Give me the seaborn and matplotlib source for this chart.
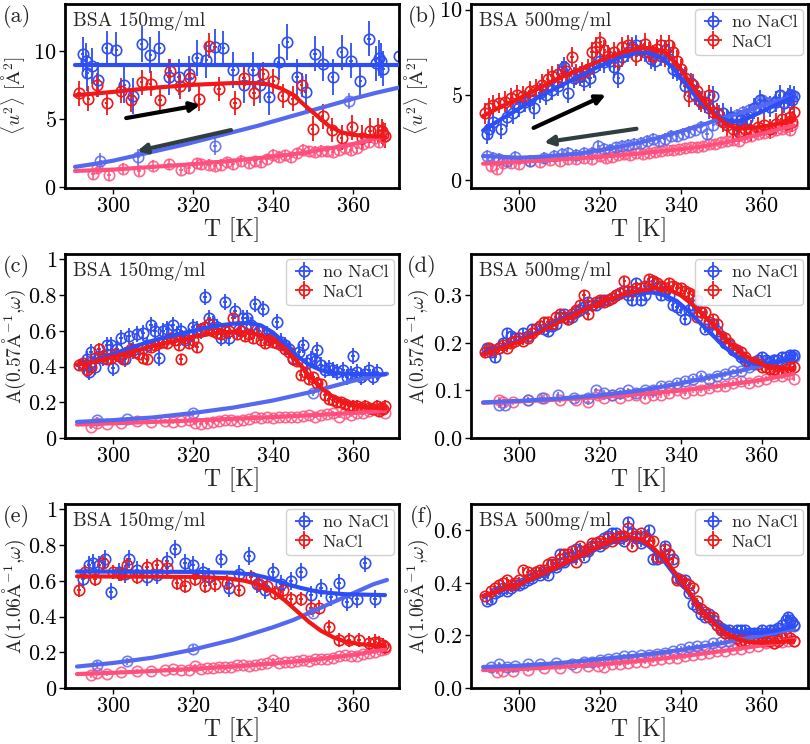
import matplotlib
matplotlib.use("Agg")
import matplotlib.pyplot as plt
from matplotlib.ticker import FuncFormatter
import seaborn as sns

# ---- colours ----
BLUE = "#2e4ef5"
RED = "#f01818"
BLUE_COOL = "#5568f0"
PINK = "#ff4f7d"

# ---- (a) BSA 150 mg/ml, <u^2> ----
a_heat_blue = [(292.4, 9.75), (293.2, 9.3), (293.6, 8.4), (294.7, 8.9), (296.3, 7.9), (298.4, 10.2), (300.8, 10.1),
               (302.8, 7.5), (305.0, 6.7), (307.2, 10.5), (309.3, 9.7), (311.6, 10.2), (314.0, 8.1), (316.5, 8.1),
               (319.0, 8.3), (321.0, 9.5), (323.3, 9.35), (325.5, 10.3), (327.6, 10.2), (330.0, 8.6), (332.8, 7.5),
               (335.0, 8.6), (336.8, 7.5), (339.0, 6.6), (341.4, 9.2), (343.6, 10.65), (346.0, 8.1), (348.2, 7.0),
               (350.5, 9.8), (352.6, 9.07), (354.9, 8.1), (357.2, 9.9), (359.5, 9.3), (361.8, 7.8), (364.0, 10.9),
               (365.8, 9.1), (366.4, 9.5), (367.0, 9.3), (367.6, 8.7), (371.6, 9.6)]
a_heat_red = [(291.5, 6.9), (293.8, 6.5), (295.9, 7.5), (298.4, 6.2), (302.0, 7.1), (304.5, 6.4), (307.2, 7.7),
              (309.4, 7.6), (311.75, 6.4), (314.25, 8.5), (316.75, 7.4), (319.25, 8.0), (321.6, 6.5), (324.0, 10.4),
              (326.5, 7.2), (330.5, 6.2), (332.75, 8.0), (335.25, 6.9), (337.6, 8.3), (340.1, 7.8), (342.4, 6.7),
              (344.9, 6.5), (347.2, 7.5), (349.9, 4.3), (352.4, 5.2), (354.7, 4.2), (357.2, 3.65), (359.7, 4.4),
              (362.2, 3.65), (364.25, 4.15), (366.3, 4.2), (367.2, 4.1), (367.6, 3.9), (368.0, 3.8)]
a_cool_blue = [(296.8, 1.95), (306.3, 2.2), (325.5, 3.0), (359.1, 6.35)]
a_cool_pink = [(295, 0.95), (296, 1.4), (299, 0.9), (302.5, 1.35), (306.5, 1.2), (310, 1.6), (314, 1.7), (317, 1.3),
               (319, 1.4), (321, 1.75), (322, 1.7), (324, 1.65), (325.5, 1.6), (327, 1.65), (328.5, 1.85), (330, 1.7),
               (332, 1.95), (334, 1.8), (335.5, 1.9), (337, 1.85), (338.5, 2.05), (340, 2.4), (341.5, 2.25),
               (343, 2.35), (344.5, 2.2), (346, 2.5), (347.5, 2.75), (349, 2.65), (350.5, 2.6), (352, 2.7),
               (353.5, 2.65), (355, 2.6), (356.5, 2.75), (358, 2.9), (359.5, 2.75), (361, 2.9), (362.5, 3.2),
               (364, 3.35), (365.5, 3.6), (366.5, 3.3), (367.5, 3.7)]
a_fit_heat_blue = [(290.5, 9.0), (372, 9.0)]
a_fit_heat_red = [(290.5, 6.75), (300, 7.0), (310, 7.3), (320, 7.52), (330, 7.65), (336, 7.65), (339, 7.55),
                  (342, 7.25), (345, 6.8), (348, 6.0), (351, 5.25), (354, 4.5), (357, 4.05), (360, 3.85),
                  (364, 3.75), (368, 3.72)]
a_fit_cool_blue = [(290.5, 1.5), (295, 1.7), (300, 1.95), (306, 2.35), (312, 2.75), (318, 3.15), (324, 3.6),
                   (330, 4.05), (336, 4.5), (342, 5.0), (348, 5.5), (354, 6.0), (360, 6.5), (366, 6.95), (372, 7.35)]
a_fit_cool_pink = [(290.5, 1.2), (300, 1.3), (310, 1.5), (320, 1.7), (330, 1.95), (340, 2.25), (347, 2.5),
                   (355, 2.9), (362, 3.3), (368, 3.75)]

# ---- (b) BSA 500 mg/ml, <u^2> ----
b_heat_blue = [(292.0, 2.7), (292.5, 3.0), (293.5, 3.4), (295.5, 3.0), (297, 3.7), (298.5, 3.9), (300, 4.3),
               (301.5, 4.6), (302.5, 4.7), (303.5, 4.2), (305, 5.1), (306.5, 5.0), (308, 5.3), (309.5, 5.5),
               (310.5, 6.4), (311, 6.6), (312, 5.1), (313.5, 6.0), (315, 6.1), (316, 5.8), (317.5, 6.0),
               (318.5, 6.6), (320, 7.0), (321, 6.9), (322.5, 7.0), (323.5, 6.6), (324.5, 6.0), (325.5, 7.2),
               (327, 7.5), (328, 7.8), (329, 7.9), (330, 7.6), (331, 7.5), (332.5, 7.1), (333.5, 7.0), (335, 7.3),
               (336, 7.6), (337, 7.1), (338, 6.5), (339, 6.4), (340, 6.2), (341, 5.5), (342.5, 5.7), (343.5, 5.0),
               (344.5, 4.7), (346, 4.6), (347, 4.2), (348, 4.9), (349.5, 3.8), (350.5, 3.9), (351.5, 3.5),
               (352.5, 3.7), (354, 3.2), (355, 3.5), (356.5, 3.6), (358, 4.2), (359.5, 4.7), (360.5, 4.4),
               (362, 4.3), (363.5, 4.6), (364.5, 5.0), (365.5, 4.5), (366.5, 4.8), (367, 5.0), (367.5, 4.7),
               (368, 4.9)]
b_heat_red = [(291.5, 3.9), (292.5, 4.2), (293.5, 4.4), (295, 4.5), (296.5, 4.6), (298, 4.8), (299.5, 5.0),
              (301, 4.9), (302.5, 5.2), (304, 5.3), (305.5, 5.6), (307, 5.9), (308, 6.1), (309.5, 6.2), (310.5, 6.0),
              (311.5, 6.4), (313, 7.2), (314, 6.2), (315.5, 6.3), (317, 6.5), (318, 7.5), (319, 7.8), (320, 8.1),
              (321, 7.6), (322, 7.3), (323.5, 7.5), (324.5, 7.0), (325.5, 7.8), (327, 7.9), (328, 7.7), (329, 7.3),
              (330, 7.6), (331, 8.0), (332, 7.5), (333, 7.3), (334, 7.7), (335, 7.9), (336, 7.2), (337, 7.9),
              (338, 7.5), (339, 7.0), (340, 6.5), (341, 6.0), (342, 4.9), (343, 5.6), (344, 5.2), (345, 4.6),
              (346, 4.5), (347, 5.0), (348, 4.0), (349, 3.9), (350.5, 3.4), (351.5, 3.2), (353, 3.0), (354.5, 2.8),
              (356, 3.0), (357.5, 2.9), (359, 3.1), (360.5, 3.2), (362, 3.0), (363.5, 3.3), (365, 3.6), (366, 3.3),
              (367, 3.7), (367.5, 3.4), (368, 4.0)]
b_cool_blue = [(292, 1.4), (293.5, 1.3), (295, 1.2), (297, 1.1), (299, 1.35), (302.5, 1.1), (306, 1.3), (308.5, 1.4),
               (310.5, 1.5), (312, 1.6), (314, 1.45), (316, 1.55), (318, 1.6), (319.5, 2.0), (321, 1.8),
               (322.5, 1.75), (324, 1.9), (325.5, 2.0), (327, 2.05), (328.5, 2.1), (330, 2.15), (331.5, 2.3),
               (333, 2.4), (334.5, 2.3), (336, 2.4), (337.5, 2.55), (339, 2.6), (340.5, 2.7), (342, 2.8),
               (343.5, 2.9), (345, 3.1), (346.5, 2.7), (348, 3.2), (349.5, 3.5), (351, 3.4), (352.5, 3.7), (354, 3.8),
               (355.5, 4.0), (357, 4.1), (358.5, 4.3), (360, 4.7), (361.5, 4.5), (363, 4.6), (364.5, 4.9),
               (365.5, 4.6), (366.5, 4.8), (367.5, 5.0)]
b_cool_pink = [(293, 0.8), (294.5, 0.65), (296, 1.0), (298, 1.0), (300, 0.95), (302.5, 1.1), (305, 1.05),
               (307.5, 1.15), (310, 1.1), (312, 1.2), (314, 1.25), (316, 1.3), (318, 1.25), (320, 1.4), (321.5, 1.3),
               (323, 1.35), (324.5, 1.45), (326, 1.5), (327.5, 1.45), (329, 1.55), (330.5, 1.5), (332, 1.6),
               (333.5, 1.65), (335, 1.7), (336.5, 1.75), (338, 1.75), (339.5, 1.8), (341, 1.85), (342.5, 1.9),
               (344, 1.95), (345.5, 2.0), (347, 2.1), (348.5, 2.1), (350, 2.2), (351.5, 2.3), (353, 2.35),
               (354.5, 2.3), (356, 2.5), (357.5, 2.6), (359, 2.7), (360.5, 2.75), (362, 2.8), (363.5, 2.9),
               (365, 3.0), (366, 3.1), (367, 2.9), (367.5, 3.2)]
b_fit_heat_blue = [(291, 2.9), (295, 3.5), (300, 4.2), (305, 4.9), (310, 5.5), (315, 6.1), (320, 6.7), (325, 7.2),
                   (329, 7.45), (332, 7.45), (335, 7.2), (338, 6.6), (341, 5.7), (344, 4.8), (347, 4.1), (350, 3.6),
                   (353, 3.4), (356, 3.55), (360, 4.0), (364, 4.45), (368, 4.9)]
b_fit_heat_red = [(291, 3.75), (295, 4.25), (300, 4.8), (305, 5.4), (310, 6.0), (315, 6.5), (320, 7.0), (325, 7.45),
                  (329, 7.7), (333, 7.75), (336, 7.5), (339, 6.8), (342, 5.8), (345, 4.8), (348, 3.9), (351, 3.3),
                  (354, 3.0), (358, 3.05), (362, 3.2), (368, 3.5)]
b_fit_cool_blue = [(291, 1.4), (300, 1.3), (305, 1.35), (310, 1.45), (315, 1.55), (320, 1.75), (325, 1.95),
                   (330, 2.2), (335, 2.5), (340, 2.85), (345, 3.2), (350, 3.6), (355, 3.95), (360, 4.35), (368, 4.9)]
b_fit_cool_pink = [(291, 0.95), (300, 1.05), (310, 1.2), (320, 1.35), (330, 1.55), (340, 1.8), (345, 1.95),
                   (350, 2.15), (355, 2.4), (360, 2.7), (368, 3.2)]

# ---- (c) BSA 150 mg/ml, A(0.57) ----
c_heat_blue = [(292.5, 0.41), (293.5, 0.44), (294, 0.37), (294.5, 0.48), (295.5, 0.4), (296.5, 0.46), (297.5, 0.45),
               (298.5, 0.52), (299.5, 0.52), (300, 0.39), (301, 0.5), (302, 0.56), (303, 0.44), (304, 0.57),
               (305, 0.49), (306, 0.58), (307.5, 0.59), (308.5, 0.52), (309.5, 0.63), (310.5, 0.6), (311.5, 0.45),
               (312.5, 0.6), (313.5, 0.61), (315, 0.63), (316, 0.58), (317, 0.6), (318, 0.55), (319, 0.57),
               (320, 0.62), (321, 0.61), (322, 0.6), (323, 0.79), (324, 0.67), (325, 0.64), (326, 0.62), (327, 0.56),
               (328, 0.76), (329, 0.56), (330.5, 0.71), (331.5, 0.61), (332.5, 0.67), (333.5, 0.67), (334.5, 0.63),
               (335.5, 0.75), (336.5, 0.6), (337.5, 0.72), (338.5, 0.58), (339.5, 0.56), (341, 0.65), (342, 0.54),
               (343, 0.52), (344, 0.5), (345, 0.45), (346.5, 0.48), (347.5, 0.52), (348.5, 0.42), (349.5, 0.44),
               (350.5, 0.43), (351, 0.49), (352, 0.41), (353, 0.38), (354, 0.39), (355, 0.38), (356, 0.37),
               (357.5, 0.38), (358.5, 0.34), (359.5, 0.36), (360, 0.46), (361, 0.37), (362, 0.34), (363, 0.36),
               (364, 0.38), (365, 0.34), (366, 0.37)]
c_heat_red = [(291.5, 0.41), (292.5, 0.42), (293.5, 0.38), (294.5, 0.4), (295.5, 0.45), (296.5, 0.5), (297.5, 0.46),
              (298.5, 0.44), (299.5, 0.45), (300.5, 0.47), (301.5, 0.46), (302.5, 0.44), (303.5, 0.48), (304.5, 0.5),
              (305.5, 0.48), (306.5, 0.47), (307.5, 0.45), (308.5, 0.44), (309.5, 0.51), (310.5, 0.52),
              (311.5, 0.53), (312.5, 0.54), (313.5, 0.53), (314.5, 0.56), (315.5, 0.55), (316.5, 0.52), (317, 0.44),
              (318, 0.56), (319, 0.53), (320, 0.55), (321, 0.51), (322, 0.61), (323, 0.62), (324, 0.64), (325, 0.6),
              (326, 0.59), (327, 0.58), (328, 0.6), (329, 0.6), (330, 0.67), (331, 0.58), (332, 0.6), (333, 0.57),
              (334, 0.58), (335, 0.56), (336, 0.61), (337, 0.55), (338, 0.53), (339, 0.55), (340, 0.54), (341, 0.53),
              (342, 0.52), (343, 0.5), (344, 0.48), (345, 0.44), (346, 0.43), (347, 0.35), (348, 0.37), (349, 0.33),
              (350, 0.34), (351, 0.31), (352, 0.3), (353, 0.24), (354, 0.22), (355, 0.21), (356, 0.2), (357, 0.2),
              (358, 0.19), (359, 0.18), (360, 0.18), (361, 0.18), (362, 0.17), (363, 0.18), (364, 0.17), (365, 0.16),
              (366, 0.18), (366.5, 0.15), (367, 0.17), (367.5, 0.16), (368, 0.18)]
c_cool_blue = [(296, 0.1), (303.5, 0.105), (320, 0.14), (350, 0.25)]
c_cool_pink = [(294.5, 0.06), (296, 0.085), (298.5, 0.08), (302, 0.085), (306, 0.095), (309.5, 0.09), (313, 0.095),
               (315, 0.09), (317, 0.095), (319, 0.1), (320.5, 0.085), (322, 0.08), (323.5, 0.085), (325, 0.09),
               (326.5, 0.095), (328, 0.1), (329.5, 0.1), (331, 0.095), (332.5, 0.1), (334, 0.105), (335.5, 0.12),
               (337, 0.11), (338.5, 0.115), (340, 0.11), (341.5, 0.115), (343, 0.12), (344.5, 0.115), (346, 0.12),
               (347.5, 0.125), (349, 0.13), (350.5, 0.12), (352, 0.13), (353.5, 0.135), (355, 0.14), (356.5, 0.12),
               (358, 0.14), (359.5, 0.13), (361, 0.14), (362.5, 0.14), (364, 0.15), (365.5, 0.16), (367, 0.17),
               (368, 0.14)]
c_fit_heat_blue = [(291, 0.41), (295, 0.43), (300, 0.47), (305, 0.51), (310, 0.545), (315, 0.575), (320, 0.6),
                   (325, 0.625), (330, 0.64), (334, 0.645), (337, 0.63), (340, 0.59), (343, 0.53), (346, 0.46),
                   (349, 0.41), (352, 0.38), (355, 0.365), (360, 0.358), (368, 0.356)]
c_fit_heat_red = [(291, 0.41), (295, 0.425), (300, 0.455), (305, 0.485), (310, 0.515), (315, 0.54), (320, 0.565),
                  (325, 0.585), (330, 0.595), (334, 0.59), (337, 0.575), (340, 0.55), (343, 0.5), (346, 0.43),
                  (349, 0.35), (352, 0.28), (355, 0.23), (358, 0.2), (361, 0.18), (365, 0.17), (368, 0.165)]
c_fit_cool_blue = [(291, 0.09), (300, 0.1), (310, 0.115), (320, 0.14), (330, 0.17), (340, 0.21), (345, 0.235),
                   (350, 0.26), (355, 0.29), (360, 0.32), (365, 0.345), (368.5, 0.36)]
c_fit_cool_pink = [(291, 0.075), (300, 0.082), (310, 0.09), (320, 0.098), (330, 0.107), (340, 0.117), (350, 0.128),
                   (360, 0.14), (368, 0.152)]

# ---- (d) BSA 500 mg/ml, A(0.57) ----
d_heat_blue = [(292, 0.19), (293, 0.18), (294, 0.17), (295, 0.19), (296, 0.2), (297, 0.22), (298, 0.215),
               (299, 0.21), (300, 0.21), (301, 0.22), (302, 0.215), (303, 0.23), (304, 0.23), (305, 0.235),
               (306, 0.23), (307, 0.225), (308, 0.235), (309, 0.24), (310, 0.255), (311, 0.26), (312, 0.25),
               (313, 0.255), (314, 0.265), (315, 0.27), (316, 0.275), (317, 0.285), (318, 0.28), (319, 0.28),
               (320, 0.285), (321, 0.29), (322, 0.29), (323, 0.295), (324, 0.3), (325, 0.305), (326, 0.31),
               (327, 0.3), (328, 0.29), (329, 0.325), (330, 0.29), (331, 0.3), (332, 0.32), (333, 0.33),
               (334, 0.315), (335, 0.3), (336, 0.31), (337, 0.3), (338, 0.28), (339, 0.275), (340, 0.27),
               (341, 0.25), (342, 0.27), (343, 0.28), (344, 0.29), (345, 0.265), (346, 0.23), (347, 0.24),
               (348, 0.24), (349, 0.225), (350, 0.21), (351, 0.2), (352, 0.195), (353, 0.185), (354, 0.18),
               (355, 0.17), (356, 0.165), (357, 0.16), (358, 0.155), (359, 0.165), (360, 0.17), (361, 0.165),
               (362, 0.16), (363, 0.165), (364, 0.165), (365, 0.17), (366, 0.17), (367, 0.175), (367.5, 0.17),
               (368, 0.175)]
d_heat_red = [(291.5, 0.18), (292.5, 0.19), (293.5, 0.185), (295, 0.19), (296, 0.195), (297, 0.19), (298, 0.2),
              (299, 0.205), (300, 0.21), (301, 0.205), (302, 0.21), (303, 0.22), (304, 0.23), (305, 0.235),
              (306, 0.245), (307, 0.245), (308, 0.24), (309, 0.255), (310, 0.26), (311, 0.255), (312, 0.25),
              (313, 0.26), (314, 0.27), (315, 0.28), (316, 0.3), (317, 0.26), (318, 0.28), (319, 0.285), (320, 0.29),
              (321, 0.285), (322, 0.29), (323, 0.295), (324, 0.3), (325, 0.305), (326, 0.33), (327, 0.31),
              (328, 0.31), (329, 0.315), (330, 0.315), (331, 0.32), (332, 0.335), (333, 0.33), (334, 0.325),
              (335, 0.32), (336, 0.315), (337, 0.325), (338, 0.32), (339, 0.315), (340, 0.315), (341, 0.31),
              (342, 0.305), (343, 0.3), (344, 0.255), (345, 0.265), (346, 0.265), (347, 0.245), (348, 0.25),
              (349, 0.24), (350, 0.215), (351, 0.21), (352, 0.2), (353, 0.19), (354, 0.185), (355, 0.18),
              (356, 0.17), (357, 0.16), (358, 0.16), (359, 0.155), (360, 0.15), (361, 0.15), (362, 0.145),
              (363, 0.145), (364, 0.14), (365, 0.14), (366, 0.145), (367, 0.15), (368, 0.15)]
d_cool_blue = [(295, 0.07), (296.5, 0.07), (302, 0.08), (305.5, 0.085), (309.5, 0.09), (313.5, 0.085), (317, 0.085),
               (319, 0.1), (321, 0.095), (323, 0.09), (325, 0.095), (327, 0.1), (329, 0.095), (331, 0.1), (333, 0.1),
               (335, 0.11), (337, 0.11), (339, 0.115), (341, 0.12), (343, 0.125), (345, 0.13), (347, 0.125),
               (349, 0.13), (351, 0.135), (353, 0.14), (355, 0.14), (357, 0.15), (359, 0.16), (361, 0.16),
               (363, 0.165), (365, 0.16), (366.5, 0.165), (368, 0.17)]
d_cool_pink = [(295, 0.08), (296, 0.075), (298.5, 0.075), (302, 0.08), (306, 0.085), (310, 0.08), (314, 0.08),
               (317, 0.075), (319.5, 0.09), (321, 0.085), (323, 0.09), (325, 0.085), (327, 0.09), (329, 0.09),
               (331, 0.085), (333, 0.09), (335, 0.09), (337, 0.095), (339, 0.1), (341, 0.095), (343, 0.1),
               (345, 0.1), (347, 0.105), (349, 0.11), (351, 0.11), (353, 0.115), (355, 0.12), (357, 0.115),
               (359, 0.12), (361, 0.125), (363, 0.13), (365, 0.13), (366.5, 0.135), (368, 0.125)]
d_fit_heat_blue = [(291, 0.178), (295, 0.19), (300, 0.205), (305, 0.225), (310, 0.248), (315, 0.268), (320, 0.285),
                   (325, 0.298), (330, 0.305), (333, 0.306), (336, 0.3), (339, 0.288), (342, 0.266), (345, 0.24),
                   (348, 0.215), (351, 0.19), (354, 0.17), (357, 0.157), (360, 0.155), (364, 0.16), (368, 0.168)]
d_fit_heat_red = [(291, 0.176), (295, 0.188), (300, 0.203), (305, 0.222), (310, 0.245), (315, 0.266), (320, 0.285),
                  (325, 0.3), (330, 0.31), (334, 0.315), (337, 0.312), (340, 0.3), (343, 0.28), (346, 0.255),
                  (349, 0.228), (352, 0.2), (355, 0.178), (358, 0.162), (361, 0.152), (365, 0.147), (368, 0.145)]
d_fit_cool_blue = [(291, 0.075), (300, 0.078), (310, 0.083), (320, 0.09), (330, 0.1), (340, 0.115), (345, 0.124),
                   (350, 0.133), (355, 0.142), (360, 0.152), (365, 0.162), (368, 0.168)]
d_fit_cool_pink = [(291, 0.074), (300, 0.077), (310, 0.081), (320, 0.086), (330, 0.092), (340, 0.1), (350, 0.11),
                   (360, 0.122), (368, 0.135)]

# ---- (e) BSA 150 mg/ml, A(1.06) ----
e_heat_blue = [(292.5, 0.61), (294, 0.69), (295, 0.7), (296.5, 0.69), (298, 0.72), (299.5, 0.54), (301.5, 0.65),
               (303, 0.64), (304, 0.72), (306, 0.66), (308.5, 0.62), (311, 0.63), (313.5, 0.71), (315.5, 0.78),
               (318, 0.7), (320, 0.69), (322.5, 0.65), (324, 0.62), (327, 0.72), (329, 0.56), (331.5, 0.64),
               (334, 0.74), (336, 0.58), (338, 0.55), (340, 0.65), (342, 0.58), (344.5, 0.6), (347, 0.65),
               (349.5, 0.52), (352, 0.56), (354.5, 0.51), (356.5, 0.59), (358.5, 0.48), (361, 0.5), (363, 0.7),
               (365.5, 0.5)]
e_heat_red = [(291.5, 0.55), (293, 0.65), (295.5, 0.61), (297.5, 0.7), (300, 0.65), (302, 0.64), (303.5, 0.69),
              (306, 0.62), (308.5, 0.68), (311, 0.69), (313.5, 0.67), (316, 0.59), (318, 0.57), (320.5, 0.61),
              (323, 0.57), (325.5, 0.58), (328.5, 0.59), (331.5, 0.55), (334.5, 0.62), (336.5, 0.58), (338.5, 0.57),
              (340.5, 0.53), (342.5, 0.55), (344.5, 0.5), (347, 0.5), (349.5, 0.45), (351.5, 0.45), (354, 0.34),
              (356.5, 0.27), (359, 0.27), (361.5, 0.27), (364, 0.25), (365.5, 0.26), (366.5, 0.25), (367.5, 0.24),
              (368, 0.23)]
e_cool_blue = [(296, 0.13), (303.5, 0.15), (320, 0.22), (350, 0.42)]
e_cool_pink = [(294.5, 0.07), (296, 0.085), (298.5, 0.08), (302, 0.09), (306, 0.095), (309.5, 0.095), (313, 0.1),
               (315, 0.105), (317, 0.1), (319, 0.1), (320.5, 0.125), (322, 0.105), (323.5, 0.11), (325, 0.11),
               (326.5, 0.12), (328, 0.115), (329.5, 0.12), (331, 0.13), (332.5, 0.13), (334, 0.125), (335.5, 0.13),
               (337, 0.135), (338.5, 0.14), (340, 0.155), (341.5, 0.14), (343, 0.145), (344.5, 0.145), (346, 0.15),
               (347.5, 0.155), (349, 0.15), (350.5, 0.16), (352, 0.165), (353.5, 0.16), (355, 0.17), (356.5, 0.18),
               (358, 0.185), (359.5, 0.18), (361, 0.18), (362.5, 0.19), (364, 0.195), (365.5, 0.2), (367, 0.21),
               (368, 0.22)]
e_fit_heat_blue = [(291, 0.652), (320, 0.65), (330, 0.645), (335, 0.635), (338, 0.62), (341, 0.6), (344, 0.578),
                   (347, 0.56), (350, 0.545), (354, 0.532), (358, 0.525), (368, 0.52)]
e_fit_heat_red = [(291, 0.625), (320, 0.622), (328, 0.615), (333, 0.6), (337, 0.575), (340, 0.54), (343, 0.49),
                  (346, 0.43), (349, 0.37), (352, 0.32), (355, 0.285), (358, 0.26), (362, 0.245), (368, 0.235)]
e_fit_cool_blue = [(291, 0.12), (300, 0.14), (310, 0.17), (320, 0.215), (330, 0.27), (340, 0.34), (345, 0.38),
                   (350, 0.43), (355, 0.48), (360, 0.53), (365, 0.58), (368.5, 0.605)]
e_fit_cool_pink = [(291, 0.078), (300, 0.085), (310, 0.095), (320, 0.107), (330, 0.12), (340, 0.137), (350, 0.157),
                   (360, 0.185), (368, 0.215)]

# ---- (f) BSA 500 mg/ml, A(1.06) ----
f_heat_blue = [(292, 0.33), (293, 0.34), (294, 0.36), (295, 0.37), (296, 0.38), (297, 0.37), (298, 0.38), (299, 0.39),
               (300, 0.39), (301, 0.4), (302, 0.41), (303, 0.42), (304, 0.44), (305, 0.43), (306, 0.44), (307, 0.43),
               (308, 0.47), (309, 0.46), (310, 0.51), (311, 0.48), (312, 0.5), (313, 0.5), (314, 0.53), (315, 0.52),
               (316, 0.5), (317, 0.52), (318, 0.54), (319, 0.55), (320, 0.54), (321, 0.57), (322, 0.58), (323, 0.59),
               (324, 0.59), (325, 0.57), (326, 0.56), (327, 0.63), (328, 0.59), (329, 0.57), (330, 0.55), (331, 0.58),
               (332, 0.6), (333, 0.49), (334, 0.49), (335, 0.5), (336, 0.54), (337, 0.51), (338, 0.49), (339, 0.42),
               (340, 0.41), (341, 0.41), (342, 0.36), (343, 0.32), (344, 0.31), (345, 0.28), (346, 0.27), (347, 0.28),
               (348, 0.26), (349, 0.24), (350, 0.23), (351, 0.22), (352, 0.22), (353, 0.21), (354, 0.22), (355, 0.22),
               (356, 0.22), (357, 0.21), (358, 0.21), (359, 0.21), (360, 0.22), (361, 0.21), (362, 0.22), (363, 0.22),
               (364, 0.23), (365, 0.24), (366, 0.26), (366.5, 0.27), (367, 0.26), (367.5, 0.25), (368, 0.24)]
f_heat_red = [(291.5, 0.35), (293, 0.37), (294, 0.38), (295, 0.39), (296, 0.4), (297, 0.41), (298, 0.39), (299, 0.4),
              (300, 0.41), (301, 0.45), (302, 0.44), (303, 0.43), (304, 0.44), (305, 0.45), (306, 0.45), (307, 0.47),
              (308, 0.48), (309, 0.47), (310, 0.49), (311, 0.51), (312, 0.51), (313, 0.52), (314, 0.48), (315, 0.54),
              (316, 0.52), (317, 0.53), (318, 0.55), (319, 0.55), (320, 0.56), (321, 0.55), (322, 0.57), (323, 0.56),
              (324, 0.57), (325, 0.58), (326, 0.58), (327, 0.61), (328, 0.54), (329, 0.58), (330, 0.59), (331, 0.57),
              (332, 0.56), (333, 0.56), (334, 0.5), (335, 0.5), (336, 0.53), (337, 0.51), (338, 0.48), (339, 0.41),
              (340, 0.41), (341, 0.4), (342, 0.39), (343, 0.38), (344, 0.33), (345, 0.3), (346, 0.29), (347, 0.27),
              (348, 0.27), (349, 0.24), (350, 0.22), (351, 0.21), (352, 0.21), (353, 0.2), (354, 0.19), (355, 0.18),
              (356, 0.18), (357, 0.18), (358, 0.19), (359, 0.19), (360, 0.18), (361, 0.18), (362, 0.18), (363, 0.17),
              (364, 0.18), (365, 0.19), (366, 0.2), (367, 0.19), (368, 0.18)]
f_cool_blue = [(293, 0.08), (295, 0.09), (297, 0.08), (299, 0.085), (302, 0.09), (305, 0.09), (309, 0.095),
               (313, 0.09), (316, 0.1), (318, 0.1), (320, 0.105), (322, 0.11), (324, 0.115), (326, 0.12), (328, 0.12),
               (330, 0.125), (332, 0.125), (334, 0.13), (336, 0.135), (338, 0.14), (340, 0.15), (342, 0.155),
               (344, 0.16), (346, 0.16), (348, 0.17), (350, 0.175), (352, 0.18), (354, 0.19), (356, 0.2), (358, 0.2),
               (360, 0.21), (362, 0.21), (364, 0.22), (366, 0.23), (367, 0.24), (368, 0.235)]
f_cool_pink = [(294.5, 0.06), (296, 0.065), (298.5, 0.065), (302, 0.07), (306, 0.075), (310, 0.075), (314, 0.08),
               (317, 0.085), (319.5, 0.085), (321, 0.08), (323, 0.09), (325, 0.09), (327, 0.095), (329, 0.1),
               (331, 0.1), (333, 0.105), (335, 0.11), (337, 0.115), (339, 0.115), (341, 0.12), (343, 0.125),
               (345, 0.13), (347, 0.135), (349, 0.14), (351, 0.14), (353, 0.15), (355, 0.15), (357, 0.155),
               (359, 0.16), (361, 0.17), (363, 0.17), (365, 0.175), (366.5, 0.18), (368, 0.18)]
f_fit_heat_blue = [(291, 0.35), (295, 0.37), (300, 0.395), (305, 0.425), (310, 0.46), (315, 0.5), (320, 0.535),
                   (324, 0.56), (327, 0.57), (329, 0.565), (332, 0.54), (335, 0.5), (338, 0.44), (341, 0.38),
                   (344, 0.32), (347, 0.27), (350, 0.235), (353, 0.215), (356, 0.21), (360, 0.21), (364, 0.22),
                   (368, 0.235)]
f_fit_heat_red = [(291, 0.35), (300, 0.395), (310, 0.465), (320, 0.54), (324, 0.565), (327, 0.575), (330, 0.565),
                  (333, 0.535), (336, 0.49), (339, 0.43), (342, 0.365), (345, 0.3), (348, 0.25), (351, 0.21),
                  (354, 0.185), (357, 0.175), (360, 0.172), (364, 0.175), (368, 0.18)]
f_fit_cool_blue = [(291, 0.08), (300, 0.085), (310, 0.095), (320, 0.11), (330, 0.125), (340, 0.145), (350, 0.17),
                   (360, 0.2), (368, 0.225)]
f_fit_cool_pink = [(291, 0.068), (300, 0.072), (310, 0.08), (320, 0.09), (330, 0.103), (340, 0.12), (350, 0.14),
                   (360, 0.162), (368, 0.185)]

# error bar sizes per series: heat blue, heat red, cool blue, cool pink
errors = {
    "a": (1.3, 0.9, 0.6, 0.4),
    "b": (0.6, 0.6, 0.35, 0.3),
    "c": (0.045, 0.03, 0.015, 0.01),
    "d": (0.01, 0.01, 0.006, 0.006),
    "e": (0.05, 0.04, 0.02, 0.012),
    "f": (0.015, 0.012, 0.008, 0.008),
}

U2_LABEL = r"$\langle u^2\rangle$ [$\mathrm{\AA}^2$]"
A057_LABEL = r"A(0.57$\mathrm{\AA}^{-1}$,$\omega$)"
A106_LABEL = r"A(1.06$\mathrm{\AA}^{-1}$,$\omega$)"

sns.set_style("ticks")
plt.rcParams["font.family"] = ["cmr10", "DejaVu Serif"]
plt.rcParams["mathtext.fontset"] = "cm"
plt.rcParams["axes.formatter.use_mathtext"] = True


def points(ax, data, color, err, label=None, alpha=1.0):
    T, v = zip(*data)
    return ax.errorbar(T, v, yerr=err, xerr=0.4, fmt="o", mfc="none", mec=color, ecolor=color,
                       ms=7.5, mew=1.2, elinewidth=1.3, alpha=alpha, label=label, zorder=2)


def fit(ax, data, color, lw=3):
    T, v = zip(*data)
    sns.lineplot(x=list(T), y=list(v), ax=ax, color=color, lw=lw, estimator=None, sort=False, zorder=3)


def panel(ax, tag, conc, series, fits, err, ylim, yticks, ylabel, label_x, legend=True, short_fmt=False):
    hb, hr, cb, cp = series
    fb, fr, fcb, fcp = fits
    points(ax, cp, PINK, err[3], alpha=0.85)
    points(ax, cb, BLUE_COOL, err[2], alpha=0.85)
    h1 = points(ax, hb, BLUE, err[0], label="no NaCl")
    h2 = points(ax, hr, RED, err[1], label="NaCl")
    fit(ax, fcp, PINK)
    fit(ax, fcb, BLUE_COOL)
    fit(ax, fb, BLUE)
    fit(ax, fr, RED)

    ax.set_xlim(288, 371.5)
    ax.set_ylim(*ylim)
    ax.set_xticks([300, 320, 340, 360])
    ax.set_yticks(yticks)
    if short_fmt:
        ax.yaxis.set_major_formatter(FuncFormatter(lambda y, _: f"{y:g}"))
    ax.tick_params(labelsize=16, direction="out", length=4, width=1, colors="black", pad=2)
    ax.set_xlabel("T [K]", fontsize=17, labelpad=1)
    ax.set_ylabel(ylabel, fontsize=14)
    ax.yaxis.set_label_coords(label_x, 0.5)
    for spine in ax.spines.values():
        spine.set_visible(True)
        spine.set_linewidth(2)
        spine.set_edgecolor("black")
    ax.text(0.025, 0.91, conc, transform=ax.transAxes, fontsize=14, va="center", ha="left")
    ax.text(-0.145, 0.93, tag, transform=ax.transAxes, fontsize=16, va="center", ha="center")
    if legend:
        ax.legend(handles=[h1, h2], loc="upper right", fontsize=13, frameon=True, framealpha=0.9,
                  edgecolor="#cccccc", borderpad=0.3, labelspacing=0.2, handlelength=1.3,
                  handletextpad=0.4, borderaxespad=0.3)
    else:
        leg = ax.get_legend()
        if leg is not None:
            leg.remove()


def arrow(ax, start, end, color):
    ax.annotate("", xy=end, xytext=start,
                arrowprops=dict(arrowstyle="-|>", color=color, lw=3, mutation_scale=14,
                                shrinkA=0, shrinkB=0), zorder=5)


fig = plt.figure(figsize=(8.1, 7.44), dpi=100)
W, H = 810, 744
cols = [(65, 399), (471, 808)]
rows = [(4, 188), (254, 438), (504, 688)]
axes = {}
for r, (top, bot) in enumerate(rows):
    for c, (left, right) in enumerate(cols):
        axes[(r, c)] = fig.add_axes([left / W, 1 - bot / H, (right - left) / W, (bot - top) / H])

LEFT_LX, RIGHT_LX = -0.112, -0.118

panel(axes[(0, 0)], "(a)", "BSA 150mg/ml", (a_heat_blue, a_heat_red, a_cool_blue, a_cool_pink),
      (a_fit_heat_blue, a_fit_heat_red, a_fit_cool_blue, a_fit_cool_pink), errors["a"],
      (-0.05, 13.45), [0, 5, 10], U2_LABEL, LEFT_LX, legend=False)
arrow(axes[(0, 0)], (303.3, 5.08), (321.8, 6.05), "black")
arrow(axes[(0, 0)], (329.5, 4.2), (306.0, 2.65), "#2f3f3f")

panel(axes[(0, 1)], "(b)", "BSA 500mg/ml", (b_heat_blue, b_heat_red, b_cool_blue, b_cool_pink),
      (b_fit_heat_blue, b_fit_heat_red, b_fit_cool_blue, b_fit_cool_pink), errors["b"],
      (-0.48, 10.33), [0, 5, 10], U2_LABEL, RIGHT_LX)
arrow(axes[(0, 1)], (303.5, 3.05), (321.4, 5.0), "black")
arrow(axes[(0, 1)], (329.0, 3.0), (306.1, 2.2), "#2f3f3f")

panel(axes[(1, 0)], "(c)", "BSA 150mg/ml", (c_heat_blue, c_heat_red, c_cool_blue, c_cool_pink),
      (c_fit_heat_blue, c_fit_heat_red, c_fit_cool_blue, c_fit_cool_pink), errors["c"],
      (0, 1.03), [0, 0.2, 0.4, 0.6, 0.8, 1.0], A057_LABEL, LEFT_LX, short_fmt=True)
panel(axes[(1, 1)], "(d)", "BSA 500mg/ml", (d_heat_blue, d_heat_red, d_cool_blue, d_cool_pink),
      (d_fit_heat_blue, d_fit_heat_red, d_fit_cool_blue, d_fit_cool_pink), errors["d"],
      (0, 0.387), [0.0, 0.1, 0.2, 0.3], A057_LABEL, RIGHT_LX)
panel(axes[(2, 0)], "(e)", "BSA 150mg/ml", (e_heat_blue, e_heat_red, e_cool_blue, e_cool_pink),
      (e_fit_heat_blue, e_fit_heat_red, e_fit_cool_blue, e_fit_cool_pink), errors["e"],
      (0, 1.03), [0, 0.2, 0.4, 0.6, 0.8, 1.0], A106_LABEL, LEFT_LX, short_fmt=True)
panel(axes[(2, 1)], "(f)", "BSA 500mg/ml", (f_heat_blue, f_heat_red, f_cool_blue, f_cool_pink),
      (f_fit_heat_blue, f_fit_heat_red, f_fit_cool_blue, f_fit_cool_pink), errors["f"],
      (0, 0.70), [0.0, 0.2, 0.4, 0.6], A106_LABEL, RIGHT_LX)

fig.savefig("out.png", dpi=100)
